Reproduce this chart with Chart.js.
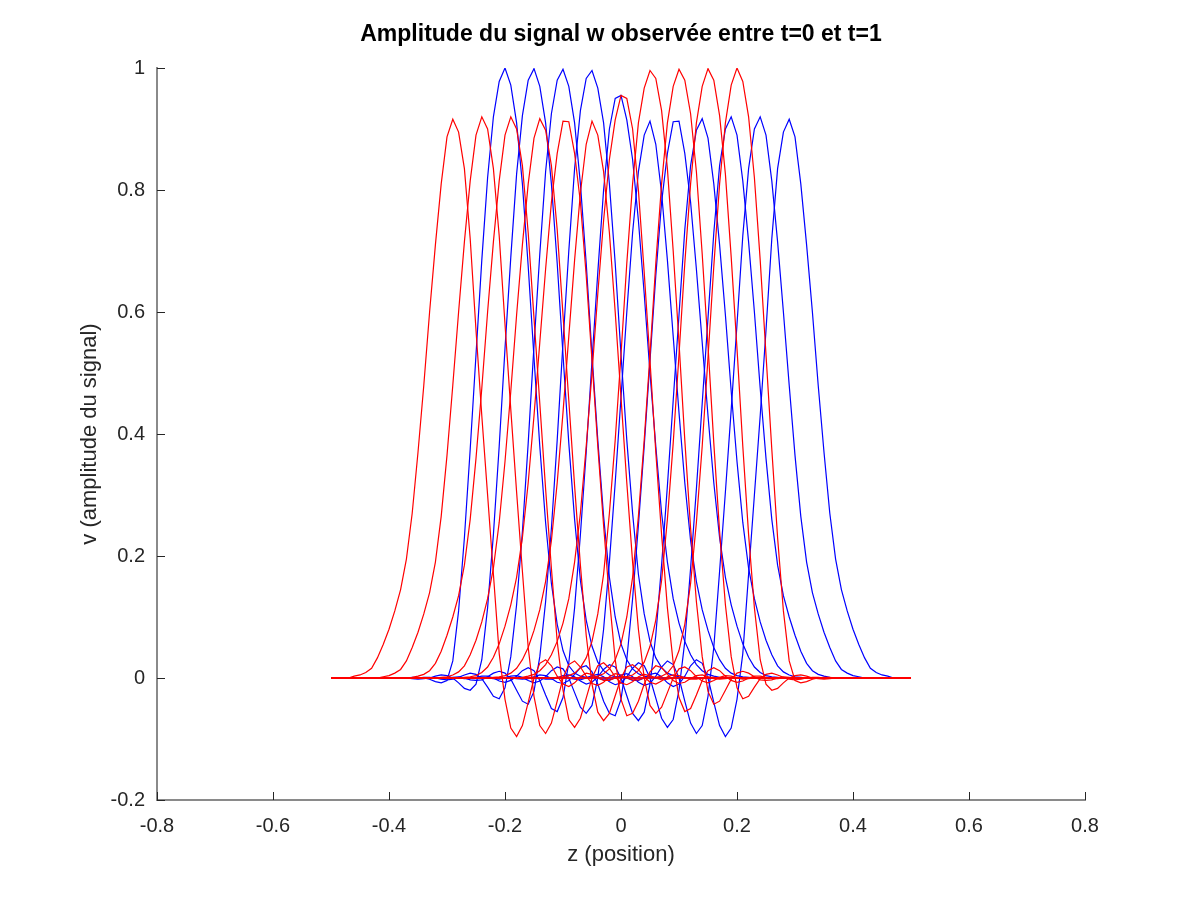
<!DOCTYPE html>
<html>
<head>
<meta charset="utf-8">
<script src="https://cdn.jsdelivr.net/npm/chart.js@4.4.1/dist/chart.umd.min.js"></script>
<style>
  html, body { margin:0; padding:0; background:#fff; }
  #wrap { width:1200px; height:900px; }
</style>
</head>
<body>
<div id="wrap"><canvas id="c" width="1200" height="900"></canvas></div>
<script>
// ==== DATA ====
// sample grid of z (position)
const zFrom = -0.5, zTo = 0.5, zStep = 0.01;

// first sampled z of each pulse (outside that range the curve sits on 0)
const redStart  = [-0.46, -0.41, -0.36, -0.31, -0.27, -0.22, -0.17, -0.12, -0.07, -0.02, 0.03];
const blueStart = [-0.01, -0.06, -0.11, -0.16, -0.20, -0.25, -0.30, -0.35, -0.40, -0.45, -0.50];

// red pulses, read left to right, 0.01 apart
const red0 = [0.003,0.005,0.009,0.016,0.033,0.055,0.08,0.11,0.145,0.195,0.27,0.37,0.48,0.6,0.71,0.81,0.887,
  0.916,
  0.895,0.835,0.72,0.57,0.43,0.3,0.17,0.04,-0.035,-0.082,-0.096,-0.078,-0.04,0,0.024,0.03,0.02,0.003,-0.01,-0.014,-0.008,0.002,0.008,0.006,0,-0.004,-0.004,0,0.002,0.002];
const red1 = [0.002,0.004,0.008,0.014,0.028,0.05,0.075,0.105,0.14,0.19,0.265,0.365,0.48,0.6,0.715,0.815,0.89,
  0.92,
  0.9,0.835,0.725,0.58,0.44,0.305,0.175,0.05,-0.03,-0.078,-0.091,-0.074,-0.038,0,0.022,0.028,0.018,0.003,-0.009,-0.012,-0.007,0.002,0.007,0.005,0,-0.003,-0.003,0,0.002,0.001];
const red2 = [0.001,0.003,0.006,0.012,0.024,0.044,0.07,0.1,0.135,0.185,0.26,0.36,0.475,0.6,0.715,0.815,0.89,
  0.92,
  0.9,0.84,0.73,0.59,0.45,0.31,0.18,0.06,-0.02,-0.068,-0.081,-0.066,-0.033,0,0.02,0.025,0.016,0.002,-0.008,-0.011,-0.006,0.002,0.006,0.004,0,-0.003,-0.002,0,0.001,0.001];
const red3 = [0.001,0.002,0.005,0.01,0.02,0.038,0.062,0.092,0.13,0.18,0.255,0.355,0.47,0.595,0.71,0.81,0.885,
  0.917,
  0.898,0.84,0.735,0.595,0.455,0.315,0.185,0.07,-0.01,-0.056,-0.07,-0.058,-0.029,0,0.018,0.022,0.014,0.002,-0.007,-0.01,-0.005,0.002,0.005,0.004,0,-0.002,-0.002,0,0.001,0.001];
const red4 = [0.001,0.002,0.004,0.009,0.018,0.034,0.056,0.085,0.12,0.165,0.23,0.32,0.43,0.55,0.67,0.78,0.86,
  0.913,
  0.912,0.86,0.78,0.66,0.52,0.38,0.25,0.13,0.03,-0.035,-0.062,-0.058,-0.038,-0.01,0.01,0.02,0.017,0.006,-0.004,-0.009,-0.007,-0.001,0.004,0.005,0.002,-0.001,-0.002,-0.001,0,0.001];
const red5 = [0.001,0.002,0.004,0.008,0.016,0.03,0.05,0.078,0.112,0.158,0.225,0.32,0.435,0.56,0.685,0.795,0.875,
  0.913,
  0.89,0.83,0.73,0.6,0.46,0.32,0.19,0.08,0,-0.045,-0.058,-0.048,-0.024,0,0.015,0.018,0.012,0.002,-0.005,-0.008,-0.004,0.001,0.004,0.003,0,-0.002,-0.001,0,0.001,0];
const red6 = [0.001,0.003,0.006,0.012,0.022,0.038,0.06,0.09,0.13,0.19,0.27,0.38,0.5,0.63,0.75,0.85,0.915,
  0.955,
  0.95,0.9,0.8,0.665,0.52,0.37,0.235,0.115,0.025,-0.032,-0.055,-0.05,-0.028,-0.004,0.012,0.017,0.012,0.003,-0.004,-0.007,-0.005,0,0.003,0.003,0.001,-0.001,-0.001,0,0,0];
const red7 = [0,0.001,0.002,0.004,0.008,0.017,0.033,0.06,0.105,0.17,0.27,0.39,0.53,0.68,0.81,0.91,0.967,
  0.996,
  0.983,0.93,0.835,0.7,0.55,0.39,0.245,0.125,0.035,-0.022,-0.043,-0.038,-0.02,-0.002,0.008,0.011,0.008,0.002,-0.003,-0.004,-0.003,0,0.002,0.001,0,-0.001,0,0,0,0];
const red8 = [0,0,0.001,0.003,0.007,0.015,0.03,0.056,0.1,0.165,0.265,0.39,0.53,0.68,0.81,0.91,0.97,
  0.998,
  0.98,0.925,0.83,0.695,0.545,0.385,0.24,0.12,0.035,-0.016,-0.034,-0.03,-0.015,-0.001,0.006,0.008,0.005,0.001,-0.002,-0.003,-0.002,0,0.001,0.001,0,0,0,0,0,0];
const red9 = [0,0,0.001,0.002,0.005,0.012,0.026,0.052,0.095,0.16,0.26,0.385,0.53,0.68,0.81,0.91,0.97,
  0.999,
  0.98,0.922,0.826,0.69,0.54,0.38,0.235,0.115,0.03,-0.01,-0.02,-0.017,-0.008,0,0.004,0.005,0.003,0,-0.001,-0.002,-0.001,0,0,0,0,0,0,0,0,0];
const red10 = [0,0,0,0.001,0.003,0.008,0.02,0.045,0.088,0.155,0.255,0.38,0.525,0.675,0.81,0.91,0.972,
  1.0,
  0.978,0.92,0.82,0.685,0.53,0.375,0.23,0.11,0.028,-0.004,-0.008,-0.006,-0.002,0,0.001,0.001,0,0,0,0,0,0,0,0,0,0,0,0,0,0];

// blue pulses, read left to right, 0.01 apart
const blue0 = [0.002,0.002,0,-0.004,-0.004,0,0.006,0.008,0.002,-0.008,-0.014,-0.01,0.003,0.02,0.03,0.024,0,-0.04,-0.078,-0.096,-0.082,-0.035,0.04,0.17,0.3,0.43,0.57,0.72,0.835,0.895,
  0.916,
  0.887,0.81,0.71,0.6,0.48,0.37,0.27,0.195,0.145,0.11,0.08,0.055,0.033,0.016,0.009,0.005,0.003];
const blue1 = [0.001,0.002,0,-0.003,-0.003,0,0.005,0.007,0.002,-0.007,-0.012,-0.009,0.003,0.018,0.028,0.022,0,-0.038,-0.074,-0.091,-0.078,-0.03,0.05,0.175,0.305,0.44,0.58,0.725,0.835,0.9,
  0.92,
  0.89,0.815,0.715,0.6,0.48,0.365,0.265,0.19,0.14,0.105,0.075,0.05,0.028,0.014,0.008,0.004,0.002];
const blue2 = [0.001,0.001,0,-0.002,-0.003,0,0.004,0.006,0.002,-0.006,-0.011,-0.008,0.002,0.016,0.025,0.02,0,-0.033,-0.066,-0.081,-0.068,-0.02,0.06,0.18,0.31,0.45,0.59,0.73,0.84,0.9,
  0.92,
  0.89,0.815,0.715,0.6,0.475,0.36,0.26,0.185,0.135,0.1,0.07,0.044,0.024,0.012,0.006,0.003,0.001];
const blue3 = [0.001,0.001,0,-0.002,-0.002,0,0.004,0.005,0.002,-0.005,-0.01,-0.007,0.002,0.014,0.022,0.018,0,-0.029,-0.058,-0.07,-0.056,-0.01,0.07,0.185,0.315,0.455,0.595,0.735,0.84,0.898,
  0.917,
  0.885,0.81,0.71,0.595,0.47,0.355,0.255,0.18,0.13,0.092,0.062,0.038,0.02,0.01,0.005,0.002,0.001];
const blue4 = [0.001,0,-0.001,-0.002,-0.001,0.002,0.005,0.004,-0.001,-0.007,-0.009,-0.004,0.006,0.017,0.02,0.01,-0.01,-0.038,-0.058,-0.062,-0.035,0.03,0.13,0.25,0.38,0.52,0.66,0.78,0.86,0.912,
  0.913,
  0.86,0.78,0.67,0.55,0.43,0.32,0.23,0.165,0.12,0.085,0.056,0.034,0.018,0.009,0.004,0.002,0.001];
const blue5 = [0,0.001,0,-0.001,-0.002,0,0.003,0.004,0.001,-0.004,-0.008,-0.005,0.002,0.012,0.018,0.015,0,-0.024,-0.048,-0.058,-0.045,0,0.08,0.19,0.32,0.46,0.6,0.73,0.83,0.89,
  0.913,
  0.875,0.795,0.685,0.56,0.435,0.32,0.225,0.158,0.112,0.078,0.05,0.03,0.016,0.008,0.004,0.002,0.001];
const blue6 = [0,0,0,-0.001,-0.001,0.001,0.003,0.003,0,-0.005,-0.007,-0.004,0.003,0.012,0.017,0.012,-0.004,-0.028,-0.05,-0.055,-0.032,0.025,0.115,0.235,0.37,0.52,0.665,0.8,0.9,0.95,
  0.955,
  0.915,0.85,0.75,0.63,0.5,0.38,0.27,0.19,0.13,0.09,0.06,0.038,0.022,0.012,0.006,0.003,0.001];
const blue7 = [0,0,0,0,-0.001,0,0.001,0.002,0,-0.003,-0.004,-0.003,0.002,0.008,0.011,0.008,-0.002,-0.02,-0.038,-0.043,-0.022,0.035,0.125,0.245,0.39,0.55,0.7,0.835,0.93,0.983,
  0.996,
  0.967,0.91,0.81,0.68,0.53,0.39,0.27,0.17,0.105,0.06,0.033,0.017,0.008,0.004,0.002,0.001,0];
const blue8 = [0,0,0,0,0,0,0.001,0.001,0,-0.002,-0.003,-0.002,0.001,0.005,0.008,0.006,-0.001,-0.015,-0.03,-0.034,-0.016,0.035,0.12,0.24,0.385,0.545,0.695,0.83,0.925,0.98,
  0.998,
  0.97,0.91,0.81,0.68,0.53,0.39,0.265,0.165,0.1,0.056,0.03,0.015,0.007,0.003,0.001,0,0];
const blue9 = [0,0,0,0,0,0,0,0,0,-0.001,-0.002,-0.001,0,0.003,0.005,0.004,0,-0.008,-0.017,-0.02,-0.01,0.03,0.115,0.235,0.38,0.54,0.69,0.826,0.922,0.98,
  0.999,
  0.97,0.91,0.81,0.68,0.53,0.385,0.26,0.16,0.095,0.052,0.026,0.012,0.005,0.002,0.001,0,0];
const blue10 = [0,0,0,0,0,0,0,0,0,0,0,0,0,0,0.001,0.001,0,-0.002,-0.006,-0.008,-0.004,0.028,0.11,0.23,0.375,0.53,0.685,0.82,0.92,0.978,
  1.0,
  0.972,0.91,0.81,0.675,0.525,0.38,0.255,0.155,0.088,0.045,0.02,0.008,0.003,0.001,0,0,0];

const redCurves  = [red0, red1, red2, red3, red4, red5, red6, red7, red8, red9, red10];
const blueCurves = [blue0, blue1, blue2, blue3, blue4, blue5, blue6, blue7, blue8, blue9, blue10];

// axes
const xTicks = [-0.8, -0.6, -0.4, -0.2, 0, 0.2, 0.4, 0.6, 0.8];
const yTicks = [-0.2, 0, 0.2, 0.4, 0.6, 0.8, 1];

const FONT = '"Liberation Sans", Arial, Helvetica, sans-serif';
const INK = '#262626';

// whole z grid, curve values where read, 0 elsewhere (flat part of the plot)
function toPoints(start, vals){
  const n = Math.round((zTo - zFrom) / zStep) + 1;
  const i0 = Math.round((start - zFrom) / zStep);
  const pts = [];
  for (let i = 0; i < n; i++){
    const k = i - i0;
    pts.push({ x: +(zFrom + i * zStep).toFixed(2), y: (k >= 0 && k < vals.length) ? vals[k] : 0 });
  }
  return pts;
}

function mkSet(vals, start, color, order){
  return {
    data: toPoints(start, vals),
    showLine: true, borderColor: color, borderWidth: 1.2,
    pointRadius: 0, tension: 0, fill: false, order
  };
}

const datasets = [
  ...redCurves.map((v, i) => mkSet(v, redStart[i], '#ff0000', 0)),
  ...blueCurves.map((v, i) => mkSet(v, blueStart[i], '#0000ff', 1))
];

// inward tick marks, like the original
const innerTicks = {
  id: 'innerTicks',
  afterDraw(chart){
    const { ctx, chartArea: a, scales: { x, y } } = chart;
    ctx.save();
    ctx.strokeStyle = INK;
    ctx.lineWidth = 1;
    ctx.beginPath();
    xTicks.forEach(t => {
      const px = Math.round(x.getPixelForValue(t)) + 0.5;
      ctx.moveTo(px, a.bottom); ctx.lineTo(px, a.bottom - 8);
    });
    yTicks.forEach(t => {
      const py = Math.round(y.getPixelForValue(t)) + 0.5;
      ctx.moveTo(a.left, py); ctx.lineTo(a.left + 8, py);
    });
    ctx.stroke();
    ctx.restore();
  }
};

new Chart(document.getElementById('c'), {
  type: 'scatter',
  data: { datasets },
  plugins: [innerTicks],
  options: {
    responsive: false,
    animation: false,
    devicePixelRatio: 1,
    layout: { padding: { left: 0, right: 115, top: 0, bottom: 0 } },
    plugins: {
      legend: { display: false },
      tooltip: { enabled: false },
      title: {
        display: true,
        fullSize: false,
        text: 'Amplitude du signal w observée entre t=0 et t=1',
        color: '#000',
        font: { family: FONT, size: 23, weight: 'bold' },
        padding: { top: 20.5, bottom: 19.9 }
      }
    },
    scales: {
      x: {
        type: 'linear', min: -0.8, max: 0.8,
        afterFit: s => { s.height = 100; },
        afterBuildTicks: s => { s.ticks = xTicks.map(v => ({ value: v })); },
        grid: { display: false, drawTicks: false },
        border: { display: true, color: '#8a8a8a', width: 2 },
        ticks: { color: INK, font: { family: FONT, size: 20 }, padding: 14, maxRotation: 0,
                 callback: v => String(v) },
        title: { display: true, text: 'z (position)', color: INK,
                 font: { family: FONT, size: 22 }, padding: { top: 0, bottom: 31.8 } }
      },
      y: {
        type: 'linear', min: -0.2, max: 1,
        afterFit: s => { s.width = 157; },
        afterBuildTicks: s => { s.ticks = yTicks.map(v => ({ value: v })); },
        grid: { display: false, drawTicks: false },
        border: { display: true, color: '#8a8a8a', width: 2 },
        ticks: { color: INK, font: { family: FONT, size: 20 }, padding: 12,
                 callback: v => String(v) },
        title: { display: true, text: 'v (amplitude du signal)', color: INK,
                 font: { family: FONT, size: 22 }, padding: { top: 76.8, bottom: 0 } }
      }
    }
  }
});
</script>
</body>
</html>
